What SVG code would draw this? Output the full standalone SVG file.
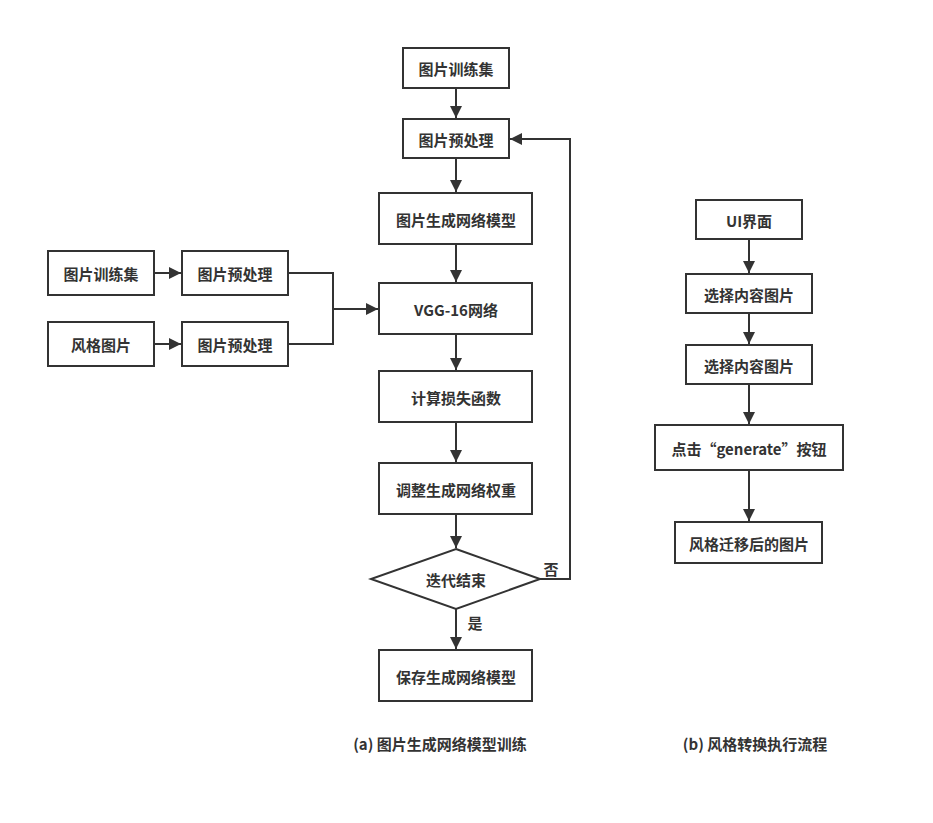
<svg xmlns="http://www.w3.org/2000/svg" width="933" height="823" viewBox="0 0 933 823">
<defs>
<marker id="ah" viewBox="0 0 10 10" refX="10" refY="5" markerWidth="12" markerHeight="12" markerUnits="userSpaceOnUse" orient="auto">
<path d="M0,0 L10,5 L0,10 Z" fill="#333"/>
</marker>
<style>
.n rect, .n polygon { fill: #fff; stroke: #333; stroke-width: 2; }
text { font-family: "Noto Sans CJK SC", "Liberation Sans", sans-serif; font-size: 15px; font-weight: bold; fill: #333; text-anchor: middle; dominant-baseline: central; }
.c path { fill: none; stroke: #333; stroke-width: 2; }
.c .a { marker-end: url(#ah); }
</style>
</defs>
<rect width="933" height="823" fill="#fff"/>
<g class="c" id="connectors">
<path class="a" d="M456,88 V118"/>
<path class="a" d="M456,158 V192"/>
<path class="a" d="M456,244 V282"/>
<path class="a" d="M456,334 V370"/>
<path class="a" d="M456,422 V462"/>
<path class="a" d="M456,514 V548"/>
<path class="a" d="M456,609 V649"/>
<path class="a" d="M540,579 H570 V139 H510"/>
<path class="a" d="M154,273 H181"/>
<path class="a" d="M154,344 H181"/>
<path d="M288,273 H333 V344 H288"/>
<path class="a" d="M333,309 H378"/>
<path class="a" d="M749,239 V273"/>
<path class="a" d="M749,313 V344"/>
<path class="a" d="M749,384 V424"/>
<path class="a" d="M749,470 V521"/>
</g>
<g class="n" id="n1"><rect x="403" y="48" width="106" height="40"/><text x="456" y="68">图片训练集</text></g>
<g class="n" id="n2"><rect x="403" y="119" width="106" height="39"/><text x="456" y="139">图片预处理</text></g>
<g class="n" id="n3"><rect x="379" y="193" width="153" height="51"/><text x="456" y="219">图片生成网络模型</text></g>
<g class="n" id="n4"><rect x="379" y="283" width="153" height="51"/><text x="456" y="309">VGG-16网络</text></g>
<g class="n" id="n5"><rect x="379" y="371" width="153" height="51"/><text x="456" y="397">计算损失函数</text></g>
<g class="n" id="n6"><rect x="379" y="463" width="153" height="51"/><text x="456" y="489">调整生成网络权重</text></g>
<g class="n" id="n7"><polygon points="456,549 540,579 456,609 371,579"/><text x="456" y="579">迭代结束</text></g>
<g class="n" id="n8"><rect x="379" y="650" width="153" height="51"/><text x="456" y="676">保存生成网络模型</text></g>
<g class="n" id="l1"><rect x="48" y="251" width="106" height="44"/><text x="101" y="273">图片训练集</text></g>
<g class="n" id="l2"><rect x="182" y="251" width="106" height="44"/><text x="235" y="273">图片预处理</text></g>
<g class="n" id="l3"><rect x="48" y="322" width="106" height="44"/><text x="101" y="344">风格图片</text></g>
<g class="n" id="l4"><rect x="182" y="322" width="106" height="44"/><text x="235" y="344">图片预处理</text></g>
<g class="n" id="r1"><rect x="696" y="200" width="106" height="39"/><text x="749" y="220">UI界面</text></g>
<g class="n" id="r2"><rect x="686" y="274" width="126" height="39"/><text x="749" y="294">选择内容图片</text></g>
<g class="n" id="r3"><rect x="686" y="345" width="126" height="39"/><text x="749" y="365">选择内容图片</text></g>
<g class="n" id="r4"><rect x="655" y="425" width="188" height="45"/><text x="749" y="448">点击“generate”按钮</text></g>
<g class="n" id="r5"><rect x="675" y="522" width="147" height="41"/><text x="749" y="543">风格迁移后的图片</text></g>
<g id="labels">
<text x="551" y="568">否</text>
<text x="475" y="622">是</text>
<text x="440" y="743">(a) 图片生成网络模型训练</text>
<text x="755" y="743">(b) 风格转换执行流程</text>
</g>
</svg>
